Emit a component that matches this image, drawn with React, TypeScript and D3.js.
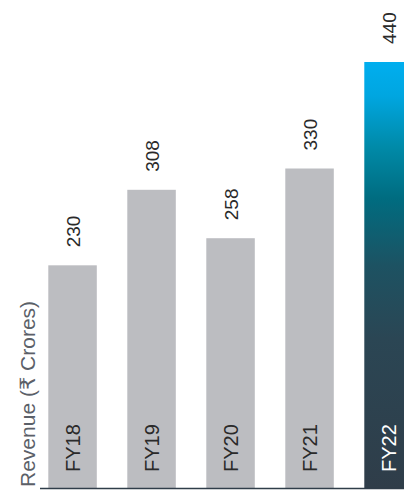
import React from "react";
import * as d3 from "d3";

const categories = ["FY18", "FY19", "FY20", "FY21", "FY22"];
const revenue = [230, 308, 258, 330, 440];
const axisTitle = "Revenue (₹ Crores)";

const W = 404;
const H = 490;

export default function App() {
  const x = d3
    .scaleBand<string>()
    .domain(categories)
    .range([48.3, 412.8])
    .paddingInner(0.386)
    .paddingOuter(0);
  const y = d3.scaleLinear().domain([0, 440]).range([488, 62]);
  const font = "'Liberation Sans', Arial, Helvetica, sans-serif";
  return (
    <svg
      width={W}
      height={H}
      style={{ position: "absolute", left: 0, top: 0, background: "#fff" }}
    >
      <defs>
        <linearGradient id="g22" x1="0" y1="0" x2="0" y2="1">
          <stop offset="0" stopColor="#00aeef" />
          <stop offset="0.08" stopColor="#00a6e0" />
          <stop offset="0.2" stopColor="#008aa8" />
          <stop offset="0.32" stopColor="#006c80" />
          <stop offset="0.48" stopColor="#1d5262" />
          <stop offset="0.65" stopColor="#2b4654" />
          <stop offset="1" stopColor="#2f3d49" />
        </linearGradient>
      </defs>
      {categories.map((c, i) => {
        const bx = x(c)!;
        const bw = x.bandwidth();
        const last = i === categories.length - 1;
        const cx = bx + bw / 2;
        return (
          <g key={c}>
            <rect
              x={bx}
              y={y(revenue[i])}
              width={bw}
              height={y(0) - y(revenue[i])}
              fill={last ? "url(#g22)" : "#bcbdc1"}
            />
            <text
              transform={`translate(${cx + 7},${y(revenue[i]) - 18}) rotate(-90)`}
              fontFamily={font}
              fontSize={19}
              fill="#2a2a2a"
            >
              {revenue[i]}
            </text>
            <text
              transform={`translate(${cx + 7.5},${472}) rotate(-90)`}
              fontFamily={font}
              fontSize={20}
              fill={last ? "#ffffff" : "#2a2a2a"}
            >
              {c}
            </text>
          </g>
        );
      })}
      <line x1={40} x2={W} y1={488.5} y2={488.5} stroke="#2f3d49" strokeWidth={1.5} />
      <text
        transform={`translate(34.5,487) rotate(-90)`}
        fontFamily="'Liberation Sans', 'DejaVu Sans', sans-serif"
        fontSize={21}
        fill="#5b6068"
      >
        {axisTitle}
      </text>
    </svg>
  );
}
